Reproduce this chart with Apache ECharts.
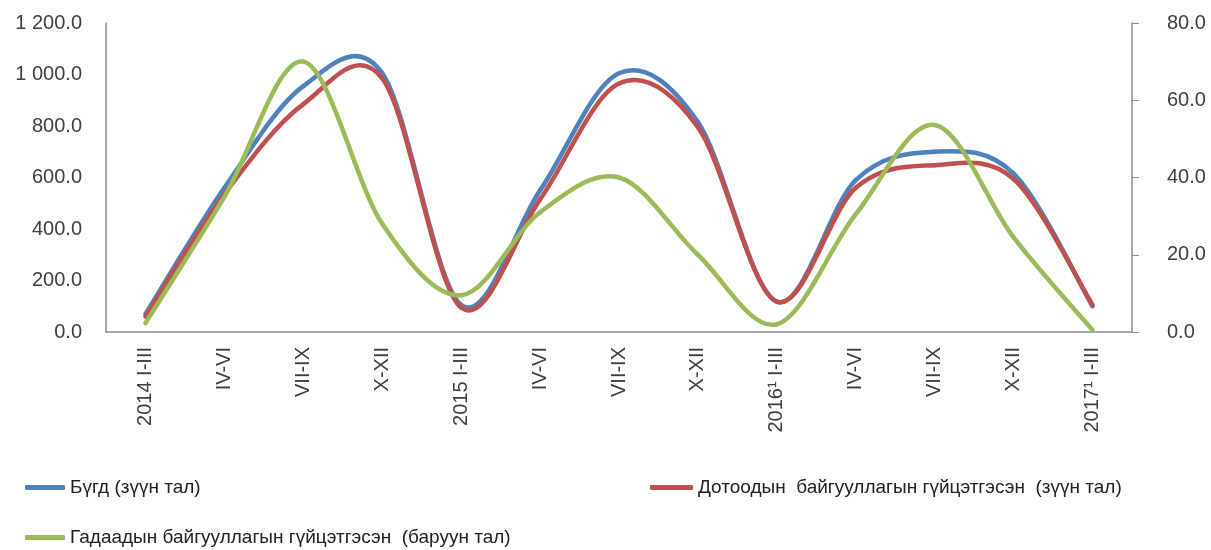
<!DOCTYPE html>
<html>
<head>
<meta charset="utf-8">
<script src="https://cdn.jsdelivr.net/npm/echarts@6/dist/echarts.min.js"></script>
<style>html,body{margin:0;padding:0;background:#fff}#c{width:1211px;height:550px}</style>
</head>
<body>
<div id="c"></div>
<script>
var categories = ['2014 I-III','IV-VI','VII-IX','X-XII','2015 I-III','IV-VI','VII-IX','X-XII','2016\u00b9 I-III','IV-VI','VII-IX','X-XII','2017\u00b9 I-III'];
var seriesNames = ['Бүгд (зүүн тал)','Дотоодын  байгууллагын гүйцэтгэсэн  (зүүн тал)','Гадаадын байгууллагын гүйцэтгэсэн  (баруун тал)'];
var totalValues = [70, 560, 955, 1005, 105, 550, 1005, 815, 118, 590, 700, 615, 100];
var domesticValues = [60, 535, 885, 985, 95, 515, 965, 795, 118, 560, 648, 594, 105];
var foreignValues = [2.3, 35, 70, 28, 9.5, 31, 40, 20, 2, 30.5, 53.6, 24.5, 0.5];
var leftTicks = {min: 0, max: 1200, interval: 200};
var rightTicks = {min: 0, max: 80, interval: 20};

var FONT = 'Liberation Sans';
var TXT = '#404040';
function fmtLeft(v){
  var s = v.toFixed(1);
  var parts = s.split('.');
  parts[0] = parts[0].replace(/\B(?=(\d{3})+(?!\d))/g, ' ');
  return parts.join('.');
}
// Excel-style smoothed line (cardinal spline through every point), one bezier segment per data item
function smoothRenderer(values, color){
  return function(params, api){
    var i = params.dataIndex, n = values.length;
    if (i >= n - 1) return null;
    function P(k){ k = Math.max(0, Math.min(n - 1, k)); return api.coord([k, values[k]]); }
    var p0 = P(i - 1), p1 = P(i), p2 = P(i + 1), p3 = P(i + 2);
    return {
      type: 'bezierCurve',
      shape: {
        x1: p1[0], y1: p1[1], x2: p2[0], y2: p2[1],
        cpx1: p1[0] + (p2[0] - p0[0]) / 6, cpy1: p1[1] + (p2[1] - p0[1]) / 6,
        cpx2: p2[0] - (p3[0] - p1[0]) / 6, cpy2: p2[1] - (p3[1] - p1[1]) / 6
      },
      style: {stroke: color, lineWidth: 4.5, fill: null, lineCap: 'round'}
    };
  };
}
function pairs(values){ return values.map(function(v, i){ return [i, v]; }); }

var chart = echarts.init(document.getElementById('c'));
var legendBase = {
  orient: 'horizontal', itemHeight: 5, icon: 'roundRect',
  textStyle: {fontFamily: FONT, fontSize: 19, color: '#222'}, selectedMode: false, padding: 0
};
var colors = ['#4F81BD', '#C0504D', '#9BBB59'];
var valueLists = [totalValues, domesticValues, foreignValues];
chart.setOption({
  animation: false,
  backgroundColor: '#fff',
  grid: {left: 106, right: 79, top: 23, bottom: 218, containLabel: false},
  legend: [
    Object.assign({}, legendBase, {data: [seriesNames[0]], left: 25, top: 478, itemWidth: 40}),
    Object.assign({}, legendBase, {data: [seriesNames[1]], left: 650, top: 478, itemWidth: 43}),
    Object.assign({}, legendBase, {data: [seriesNames[2]], left: 25, top: 528, itemWidth: 40})
  ],
  xAxis: {
    type: 'category', data: categories, boundaryGap: true,
    axisLine: {lineStyle: {color: '#8c8c8c', width: 1.5}},
    axisTick: {show: false},
    axisLabel: {rotate: 90, interval: 0, fontFamily: FONT, fontSize: 20, color: TXT, margin: 15}
  },
  yAxis: [
    {type: 'value', min: leftTicks.min, max: leftTicks.max, interval: leftTicks.interval, position: 'left',
     axisLine: {show: true, lineStyle: {color: '#8c8c8c', width: 1.5}},
     axisTick: {show: false}, splitLine: {show: false},
     axisLabel: {formatter: fmtLeft, fontFamily: FONT, fontSize: 20, color: TXT, margin: 24}},
    {type: 'value', min: rightTicks.min, max: rightTicks.max, interval: rightTicks.interval, position: 'right',
     axisLine: {show: true, lineStyle: {color: '#8c8c8c', width: 1.5}},
     axisTick: {show: true, inside: false, length: 7, lineStyle: {color: '#8c8c8c'}}, splitLine: {show: false},
     axisLabel: {formatter: function(v){return v.toFixed(1);}, fontFamily: FONT, fontSize: 20, color: TXT, margin: 35}}
  ],
  series: [0, 1, 2].map(function(k){
    return {
      name: seriesNames[k], type: 'custom', yAxisIndex: k === 2 ? 1 : 0,
      data: pairs(valueLists[k]), clip: false,
      renderItem: smoothRenderer(valueLists[k], colors[k]),
      itemStyle: {color: colors[k]}, z: 2 + k
    };
  })
});
</script>
</body>
</html>
